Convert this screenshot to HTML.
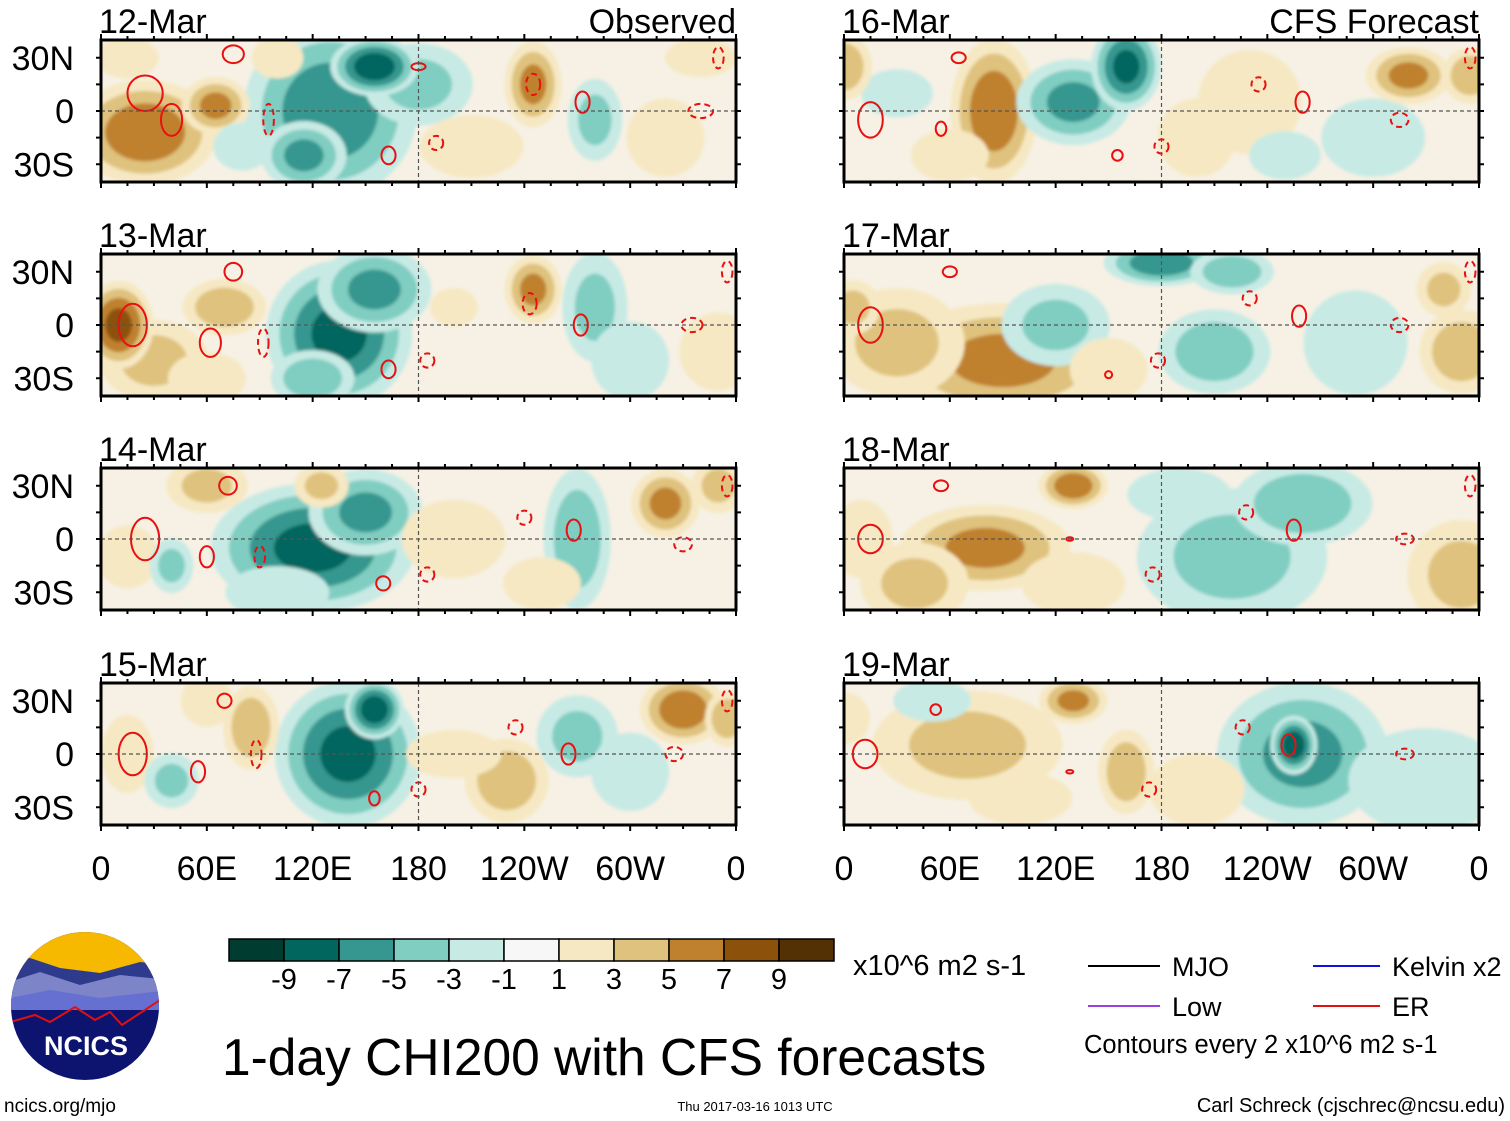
<!DOCTYPE html>
<html><head><meta charset="utf-8"><style>
body{margin:0;background:#fff;}
svg{display:block;font-family:"Liberation Sans",sans-serif;}
</style></head><body>
<svg id="fig" width="1510" height="1121" viewBox="0 0 1510 1121" xmlns="http://www.w3.org/2000/svg">
<defs>
<filter id="soft" x="-20%" y="-20%" width="140%" height="140%"><feGaussianBlur stdDeviation="1.5"/></filter>
</defs>
<g id="panels"></g>
<g id="colorbar"></g>
<text x="853" y="975" font-size="29">x10^6 m2 s-1</text>
<g>
<line x1="1088" y1="966" x2="1160" y2="966" stroke="#000" stroke-width="2"/>
<text x="1172" y="976" font-size="27">MJO</text>
<line x1="1313" y1="966" x2="1380" y2="966" stroke="#1010e0" stroke-width="2"/>
<text x="1392" y="976" font-size="27">Kelvin x2</text>
<line x1="1088" y1="1006" x2="1160" y2="1006" stroke="#9a40e0" stroke-width="2"/>
<text x="1172" y="1016" font-size="27">Low</text>
<line x1="1313" y1="1006" x2="1380" y2="1006" stroke="#e01010" stroke-width="2"/>
<text x="1392" y="1016" font-size="27">ER</text>
<text x="1084" y="1053" font-size="25.5">Contours every 2 x10^6 m2 s-1</text>
</g>
<text x="222" y="1075" font-size="51.5">1-day CHI200 with CFS forecasts</text>
<text x="4" y="1112" font-size="19">ncics.org/mjo</text>
<text x="755" y="1111" font-size="13" text-anchor="middle">Thu 2017-03-16 1013 UTC</text>
<text x="1505" y="1112" font-size="20" text-anchor="end">Carl Schreck (cjschrec@ncsu.edu)</text>
<g>
<clipPath id="logoclip"><circle cx="85" cy="1006" r="74"/></clipPath>
<g clip-path="url(#logoclip)">
<rect x="0" y="930" width="170" height="160" fill="#0d1470"/>
<rect x="0" y="930" width="170" height="45" fill="#f7b800"/>
<path d="M0 965 L30 958 L60 968 L100 973 L140 962 L170 965 L170 1000 L0 1000Z" fill="#2e3a8c"/>
<path d="M0 985 L40 972 L80 985 L120 975 L170 980 L170 1005 L0 1005Z" fill="#7d84c8"/>
<path d="M0 1000 L50 990 L100 998 L170 990 L170 1010 L0 1010Z" fill="#6670d0"/>
<path d="M0 1025 L35 1015 L50 1022 L75 1007 L95 1020 L110 1012 L122 1025 L160 1000 L170 1000 L170 930 L0 930Z" fill="none" stroke="#e01010" stroke-width="2"/>
</g>
<text x="86" y="1055" font-size="27" font-weight="bold" fill="#fff" text-anchor="middle">NCICS</text>
</g>
</svg>
<script>
const NS="http://www.w3.org/2000/svg";
const panelTitles=["12-Mar","13-Mar","14-Mar","15-Mar","16-Mar","17-Mar","18-Mar","19-Mar"];
const levelColors=["#013c30","#01665e","#35978f","#80cdc1","#c7eae5","#f7f7f7","#f6e8c3","#dfc27d","#bf812d","#8c510a","#543005"];
const levelTicks=["-9","-7","-5","-3","-1","1","3","5","7","9"];
const latTicks=[30,0,-30];
const latTickLabels=["30N","0","30S"];
const lonTicks=[0,60,120,180,240,300,360];
const lonTickLabels=["0","60E","120E","180","120W","60W","0"];
// blobs: [lon, lat, lonRadius, latRadius, peakValue]
const blobs0=[[25,-12,25,18,7],[65,3,12,10,6],[15,30,12,8,3],[130,0,30,30,-7],[155,25,15,10,-9],[115,-25,15,12,-6],[180,15,20,15,-4],[245,15,10,15,6],[280,-5,10,15,-4],[210,-20,20,12,3],[320,-15,15,15,3],[340,30,15,8,2],[100,30,10,8,3],[80,-20,12,10,-2]];
const blobs1=[[10,0,12,15,8],[30,-20,20,15,4],[70,10,15,10,5],[135,-5,25,25,-8],[155,20,20,15,-6],[120,-30,15,10,-5],[245,20,10,12,6],[280,10,12,20,-4],[300,-20,15,15,-3],[350,-15,15,15,3],[60,-30,15,10,3],[200,10,10,8,2]];
const blobs2=[[120,-5,35,22,-8],[150,15,20,15,-6],[60,30,15,10,4],[125,30,10,8,4],[40,-15,8,10,-4],[200,0,20,15,3],[270,0,12,25,-5],[320,20,12,12,6],[350,30,10,10,4],[100,-30,20,10,-3],[250,-25,15,10,3],[15,-10,12,12,3]];
const blobs3=[[140,0,25,25,-8],[155,25,10,10,-9],[85,15,10,15,5],[230,-15,15,15,5],[330,25,15,12,7],[355,20,8,10,5],[270,10,15,15,-4],[300,-10,15,15,-3],[40,-15,10,10,-4],[60,30,10,10,3],[200,0,20,10,2],[15,0,10,15,3]];
const blobs4=[[85,0,15,25,7],[160,25,12,15,-8],[130,5,20,15,-6],[0,25,10,12,5],[320,20,15,10,6],[355,20,10,10,5],[230,5,20,20,3],[300,-15,20,15,-3],[30,10,15,10,-2],[200,-15,15,15,3],[250,-25,15,10,-2],[60,-25,15,10,3]];
const blobs5=[[90,-20,40,20,6],[30,-10,25,20,4],[180,35,20,8,-7],[220,30,15,8,-5],[120,0,20,15,-4],[210,-15,20,15,-5],[350,-15,15,15,5],[340,20,10,10,4],[290,-10,20,20,-3],[150,-25,15,12,3],[5,10,10,10,4]];
const blobs6=[[80,-5,30,15,6],[130,30,12,8,7],[220,-10,35,25,-4],[260,20,25,15,-5],[40,-25,20,15,4],[350,-20,20,20,4],[130,-25,20,12,3],[190,25,20,10,-3],[10,0,12,15,3]];
const blobs7=[[70,5,35,20,4],[130,30,12,8,6],[260,0,30,25,-6],[255,5,8,10,-9],[50,30,15,8,-3],[160,-10,10,15,5],[200,-20,20,15,2],[330,-15,30,20,-3],[0,20,10,10,3],[100,-25,20,10,3]];
const allBlobs=[blobs0,blobs1,blobs2,blobs3,blobs4,blobs5,blobs6,blobs7];
// red contours: [lon, lat, lonRadius, latRadius, dashed]
const er0=[[25,10,10,10,0],[40,-5,6,9,0],[75,32,6,5,0],[95,-5,3,9,1],[163,-25,4,5,0],[190,-18,4,4,1],[245,15,4,6,1],[273,5,4,6,0],[340,0,7,4,1],[350,30,3,6,1],[180,25,4,2,0]];
const er1=[[18,0,8,12,0],[62,-10,6,8,0],[75,30,5,5,0],[92,-10,3,8,1],[163,-25,4,5,0],[185,-20,4,4,1],[243,12,4,6,1],[272,0,4,6,0],[335,0,6,4,1],[355,30,3,6,1]];
const er2=[[25,0,8,12,0],[60,-10,4,6,0],[72,30,5,5,0],[90,-10,3,6,1],[160,-25,4,4,0],[185,-20,4,4,1],[240,12,4,4,1],[268,5,4,6,0],[330,-3,5,4,1],[355,30,3,6,1]];
const er3=[[18,0,8,12,0],[55,-10,4,6,0],[70,30,4,4,0],[88,0,3,8,1],[155,-25,3,4,0],[180,-20,4,4,1],[235,15,4,4,1],[265,0,4,6,0],[325,0,5,4,1],[355,30,3,6,1]];
const er4=[[15,-5,7,10,0],[55,-10,3,4,0],[65,30,4,3,0],[235,15,4,4,1],[260,5,4,6,0],[315,-5,5,4,1],[355,30,3,6,1],[155,-25,3,3,0],[180,-20,4,4,1]];
const er5=[[15,0,7,10,0],[60,30,4,3,0],[230,15,4,4,1],[258,5,4,6,0],[315,0,5,4,1],[355,30,3,6,1],[150,-28,2,2,0],[178,-20,4,4,1]];
const er6=[[15,0,7,8,0],[55,30,4,3,0],[228,15,4,4,1],[255,5,4,6,0],[318,0,5,3,1],[355,30,3,6,1],[128,0,2,1,0],[175,-20,4,4,1]];
const er7=[[12,0,7,8,0],[52,25,3,3,0],[226,15,4,4,1],[252,5,4,6,0],[318,0,5,3,1],[128,-10,2,1,0],[173,-20,4,4,1]];
const allER=[er0,er1,er2,er3,er4,er5,er6,er7];

const panelX=[101,844], panelY=[40,254,468,683], PW=635, PH=142;
const levels=[1,3,5,7,9];
function xs(x0,lon){return x0+lon/360*PW;}
function ys(y0,lat){return y0+(40-lat)/80*PH;}
function colorFor(v){let i=Math.round((v+11)/2-0.5);if(i<0)i=0;if(i>10)i=10;return levelColors[i];}
function mk(tag,attrs,parent){const e=document.createElementNS(NS,tag);for(const k in attrs)e.setAttribute(k,attrs[k]);parent.appendChild(e);return e;}
const root=document.getElementById('panels');
for(let p=0;p<8;p++){
  const col=p<4?0:1,row=p%4;const x0=panelX[col],y0=panelY[row];
  const g=mk('g',{},root);
  
  
  const cp=mk('clipPath',{id:'cp'+p},g);
  mk('rect',{x:x0,y:y0,width:PW,height:PH},cp);
  const inner=mk('g',{'clip-path':'url(#cp'+p+')'},g);
  mk('rect',{x:x0,y:y0,width:PW,height:PH,fill:'#f6f1e4'},inner);
  const fg=mk('g',{filter:'url(#soft)'},inner);
  const bl=allBlobs[p].slice().sort((a,b)=>b[2]*b[3]-a[2]*a[3]);
  for(const b of bl){
    const [lon,lat,rl,rt,v]=b;const a=Math.abs(v),s=Math.sign(v);
    for(const t of levels){
      if(t>=a)break;
      const f=Math.pow(1-t/(a+1),0.7);
      const bandVal=s*(t+1);
      const e=mk('ellipse',{cx:xs(x0,lon),cy:ys(y0,lat),rx:rl*f*PW/360*1.8,ry:rt*f*PH/80*1.8,fill:colorFor(bandVal)},fg);
      
      
    }
  }
  for(const c of allER[p]){
    const e=mk('ellipse',{cx:xs(x0,c[0]),cy:ys(y0,c[1]),rx:c[2]*PW/360,ry:c[3]*PH/80,fill:'none',stroke:'#e81010','stroke-width':2,'stroke-dasharray':c[4]?'6 4':'none'},inner);
    
    
  }
  mk('line',{x1:x0,y1:ys(y0,0),x2:x0+PW,y2:ys(y0,0),stroke:'#555','stroke-width':1.2,'stroke-dasharray':'4 3'},inner);
  mk('line',{x1:xs(x0,180),y1:y0,x2:xs(x0,180),y2:y0+PH,stroke:'#555','stroke-width':1.2,'stroke-dasharray':'4 3'},inner);
  const fr=mk('rect',{x:x0,y:y0,width:PW,height:PH,fill:'none',stroke:'#000','stroke-width':3},g);
  
  
  for(let lon=0;lon<=360;lon+=15){
    const big=lon%60===0;
    mk('line',{x1:xs(x0,lon),y1:y0+PH,x2:xs(x0,lon),y2:y0+PH+(big?6:4),stroke:'#000','stroke-width':2},g);
    mk('line',{x1:xs(x0,lon),y1:y0,x2:xs(x0,lon),y2:y0-(big?6:4),stroke:'#000','stroke-width':2},g);
  }
  for(let lat=-30;lat<=30;lat+=15){
    mk('line',{x1:x0,y1:ys(y0,lat),x2:x0-5,y2:ys(y0,lat),stroke:'#000','stroke-width':2},g);
    mk('line',{x1:x0+PW,y1:ys(y0,lat),x2:x0+PW+5,y2:ys(y0,lat),stroke:'#000','stroke-width':2},g);
  }
  const tt=mk('text',{x:x0-2,y:y0-7,'font-size':34},g);tt.textContent=panelTitles[p];
  
  
  if(row===0){const st=mk('text',{x:x0+PW,y:y0-7,'font-size':34,'text-anchor':'end'},g);st.textContent=col===0?'Observed':'CFS Forecast';
    
    }
  if(col===0){latTicks.forEach((lat,i)=>{const t=mk('text',{x:74,y:ys(y0,lat)+12,'font-size':34,'text-anchor':'end'},g);t.textContent=latTickLabels[i];
    
    });}
  if(row===3){lonTicks.forEach((lon,i)=>{const t=mk('text',{x:xs(x0,lon),y:880,'font-size':34,'text-anchor':'middle'},g);t.textContent=lonTickLabels[i];
    
    });}
}
const cb=document.getElementById('colorbar');
const cbx=229,cby=939,cbw=55,cbh=22;
levelColors.forEach((c,i)=>{const r=mk('rect',{x:cbx+i*cbw,y:cby,width:cbw,height:cbh,fill:c,stroke:'#000','stroke-width':1.5},cb);
  
  });
levelTicks.forEach((l,i)=>{const t=mk('text',{x:cbx+(i+1)*cbw,y:989,'font-size':29,'text-anchor':'middle'},cb);t.textContent=l;
  
  });
</script>
</body></html>
